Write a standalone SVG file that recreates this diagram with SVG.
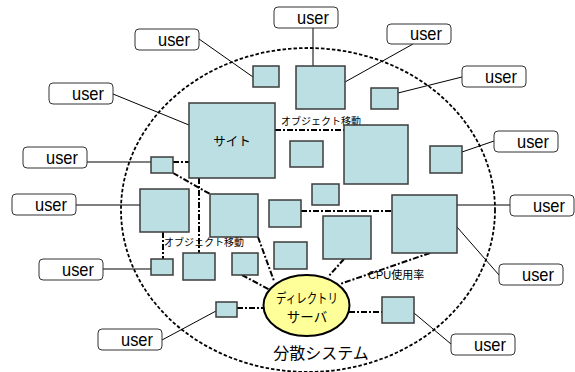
<svg xmlns="http://www.w3.org/2000/svg" width="575" height="372" viewBox="0 0 575 372">
<style>
.u rect{fill:#fff;stroke:#333;stroke-width:1}
.u text{font-family:"Liberation Sans",Arial,sans-serif;font-size:19px;fill:#000;text-anchor:end}
.n{fill:#BBDFE2;stroke:#3c3c3c;stroke-width:1.5}
.ul{stroke:#000;stroke-width:1;fill:none}
.dd{stroke:#000;stroke-width:2;fill:none;stroke-dasharray:6 2 2 2}
.lb{font-family:"Liberation Sans","Noto Sans CJK JP",sans-serif;fill:#000}
</style>
<rect width="575" height="372" fill="#fff"/>
<ellipse id="system" cx="308" cy="210" rx="187" ry="162" fill="none" stroke="#000" stroke-width="1.8" stroke-dasharray="3.5 2"/>
<g id="connectors">
<line class="ul" x1="313" y1="28" x2="313" y2="66"/>
<line class="ul" x1="413" y1="44" x2="345" y2="82"/>
<line class="ul" x1="462" y1="77" x2="398" y2="93"/>
<line class="ul" x1="494" y1="141" x2="462" y2="152"/>
<line class="ul" x1="199" y1="39" x2="253" y2="77"/>
<line class="ul" x1="113" y1="94" x2="189" y2="125"/>
<line class="ul" x1="87" y1="162" x2="151" y2="162"/>
<line class="ul" x1="76" y1="205" x2="140" y2="205"/>
<line class="ul" x1="103" y1="269" x2="151" y2="269"/>
<line class="ul" x1="162" y1="340" x2="216" y2="311"/>
<line class="ul" x1="457" y1="205" x2="510" y2="205"/>
<line class="ul" x1="457" y1="227" x2="499" y2="275"/>
<line class="ul" x1="414" y1="313" x2="451" y2="344"/>
<line class="dd" x1="275" y1="130" x2="344" y2="130"/>
<line class="dd" x1="173" y1="162" x2="189" y2="162"/>
<line class="dd" x1="173" y1="173" x2="210" y2="194"/>
<line class="dd" x1="199" y1="178" x2="199" y2="253"/>
<line class="dd" x1="163" y1="232" x2="163" y2="259"/>
<line class="dd" x1="258" y1="237" x2="274" y2="281"/>
<line class="dd" x1="242" y1="275" x2="270" y2="290"/>
<line class="dd" x1="237" y1="308" x2="263" y2="308"/>
<line class="dd" x1="301" y1="211" x2="392" y2="211"/>
<line class="dd" x1="344" y1="259" x2="328" y2="277"/>
<line class="dd" x1="430" y1="253" x2="340" y2="284"/>
<line class="dd" x1="349" y1="312" x2="382" y2="312"/>
</g>
<text class="lb" x="281" y="125" font-size="10">オブジェクト移動</text>
<text class="lb" x="164" y="246" font-size="10">オブジェクト移動</text>
<text class="lb" x="368" y="279" font-size="11">CPU使用率</text>
<g id="u1" class="u"><rect x="274" y="7" width="64" height="21" rx="4"/><text x="329" y="24" textLength="32" lengthAdjust="spacingAndGlyphs">user</text></g>
<g id="u2" class="u"><rect x="387" y="24" width="64" height="20" rx="4"/><text x="442" y="40" textLength="32" lengthAdjust="spacingAndGlyphs">user</text></g>
<g id="u3" class="u"><rect x="462" y="66" width="64" height="21" rx="4"/><text x="517" y="83" textLength="32" lengthAdjust="spacingAndGlyphs">user</text></g>
<g id="u4" class="u"><rect x="494" y="131" width="64" height="21" rx="4"/><text x="549" y="148" textLength="32" lengthAdjust="spacingAndGlyphs">user</text></g>
<g id="u5" class="u"><rect x="135" y="29" width="64" height="21" rx="4"/><text x="190" y="46" textLength="32" lengthAdjust="spacingAndGlyphs">user</text></g>
<g id="u6" class="u"><rect x="49" y="83" width="64" height="21" rx="4"/><text x="104" y="100" textLength="32" lengthAdjust="spacingAndGlyphs">user</text></g>
<g id="u7" class="u"><rect x="23" y="147" width="64" height="21" rx="4"/><text x="78" y="164" textLength="32" lengthAdjust="spacingAndGlyphs">user</text></g>
<g id="u8" class="u"><rect x="12" y="194" width="64" height="21" rx="4"/><text x="67" y="211" textLength="32" lengthAdjust="spacingAndGlyphs">user</text></g>
<g id="u9" class="u"><rect x="39" y="259" width="64" height="21" rx="4"/><text x="94" y="276" textLength="32" lengthAdjust="spacingAndGlyphs">user</text></g>
<g id="u10" class="u"><rect x="98" y="329" width="64" height="21" rx="4"/><text x="153" y="346" textLength="32" lengthAdjust="spacingAndGlyphs">user</text></g>
<g id="u11" class="u"><rect x="510" y="195" width="64" height="21" rx="4"/><text x="565" y="212" textLength="32" lengthAdjust="spacingAndGlyphs">user</text></g>
<g id="u12" class="u"><rect x="499" y="264" width="64" height="21" rx="4"/><text x="554" y="281" textLength="32" lengthAdjust="spacingAndGlyphs">user</text></g>
<g id="u13" class="u"><rect x="451" y="334" width="64" height="21" rx="4"/><text x="506" y="351" textLength="32" lengthAdjust="spacingAndGlyphs">user</text></g>
<g id="nA"><rect class="n" x="253" y="66" width="26" height="21"/></g>
<g id="nB"><rect class="n" x="296" y="66" width="49" height="43"/></g>
<g id="nC"><rect class="n" x="371" y="88" width="27" height="21"/></g>
<g id="site"><rect class="n" x="189" y="103" width="86" height="75"/><text class="lb" x="232" y="146" font-size="12.5" text-anchor="middle">サイト</text></g>
<g id="nS1"><rect class="n" x="151" y="157" width="22" height="16"/></g>
<g id="nD"><rect class="n" x="344" y="125" width="64" height="59"/></g>
<g id="nE"><rect class="n" x="290" y="141" width="33" height="26"/></g>
<g id="nF"><rect class="n" x="430" y="146" width="32" height="27"/></g>
<g id="nG"><rect class="n" x="312" y="184" width="27" height="21"/></g>
<g id="nH"><rect class="n" x="269" y="200" width="32" height="27"/></g>
<g id="nI"><rect class="n" x="323" y="216" width="48" height="43"/></g>
<g id="nJ"><rect class="n" x="392" y="195" width="65" height="58"/></g>
<g id="nK"><rect class="n" x="274" y="242" width="33" height="27"/></g>
<g id="nL"><rect class="n" x="140" y="189" width="49" height="43"/></g>
<g id="nM"><rect class="n" x="210" y="194" width="48" height="43"/></g>
<g id="nN"><rect class="n" x="151" y="259" width="22" height="16"/></g>
<g id="nO"><rect class="n" x="183" y="253" width="32" height="27"/></g>
<g id="nP"><rect class="n" x="232" y="253" width="26" height="22"/></g>
<g id="nQ"><rect class="n" x="216" y="302" width="21" height="15"/></g>
<g id="nR"><rect class="n" x="382" y="297" width="32" height="26"/></g>
<g id="directory">
<ellipse cx="306.5" cy="305.5" rx="43" ry="30.5" fill="#FFFF99" stroke="#000" stroke-width="2"/>
<text class="lb" x="307" y="303" font-size="13.5" text-anchor="middle" textLength="62" lengthAdjust="spacingAndGlyphs">ディレクトリ</text>
<text class="lb" x="307" y="322" font-size="13.5" text-anchor="middle">サーバ</text>
</g>
<text class="lb" x="321" y="359" font-size="16" text-anchor="middle">分散システム</text>
</svg>
